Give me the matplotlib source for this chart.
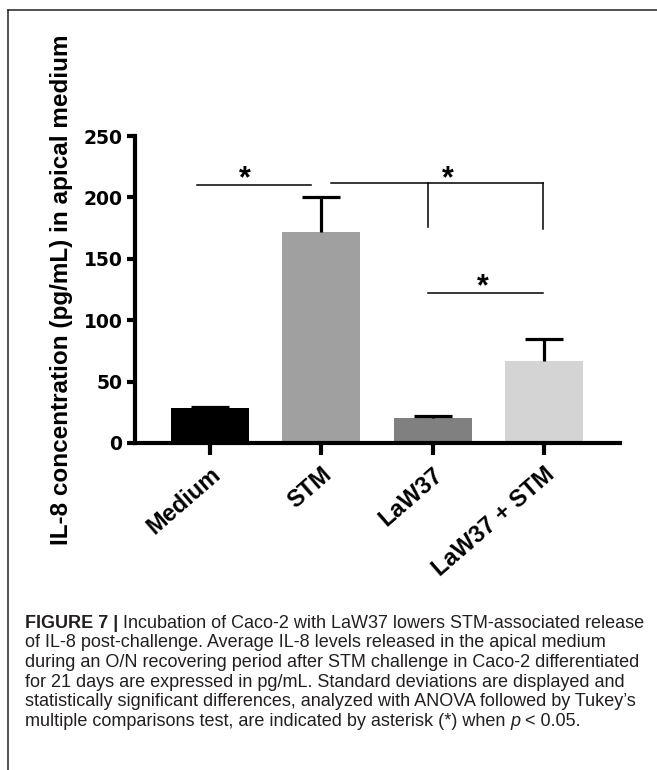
"""IL-8 release bar chart with significance brackets and figure caption."""

import matplotlib
matplotlib.use("Agg")
import matplotlib.pyplot as plt
from matplotlib.lines import Line2D
import numpy as np

# ---- Data ----
groups = ["Medium", "STM", "LaW37", "LaW37 + STM"]
il8_mean = [28.5, 172, 20.6, 67]
il8_sd = [1.0, 28, 1.0, 18]
bar_colors = ["#000000", "#a0a0a0", "#808080", "#d4d4d4"]

# significance brackets: (x_left, x_right, y) in data units, star (x, y)
sig_lines = [(-0.12, 0.91, 210), (1.09, 2.99, 211.5), (1.96, 2.99, 122.4)]
sig_drops = [(1.96, 211.5, 176), (2.99, 211.5, 174)]
sig_stars = [(0.31, 215), (2.14, 215), (2.45, 127)]

yticks = [0, 50, 100, 150, 200, 250]

caption_lines = [
    [("FIGURE 7 | ", "bold", "normal"),
     ("Incubation of Caco-2 with LaW37 lowers STM-associated release", "normal", "normal")],
    [("of IL-8 post-challenge. Average IL-8 levels released in the apical medium", "normal", "normal")],
    [("during an O/N recovering period after STM challenge in Caco-2 differentiated", "normal", "normal")],
    [("for 21 days are expressed in pg/mL. Standard deviations are displayed and", "normal", "normal")],
    [("statistically significant differences, analyzed with ANOVA followed by Tukey\u2019s", "normal", "normal")],
    [("multiple comparisons test, are indicated by asterisk (*) when ", "normal", "normal"),
     ("p", "normal", "italic"),
     (" < 0.05.", "normal", "normal")],
]

W, H = 657, 770
fig = plt.figure(figsize=(W / 100, H / 100), dpi=100)
fig.patch.set_facecolor("white")

# axes placed in pixel terms
ax = fig.add_axes([135 / W, (H - 443) / H, (620 - 135) / W, 307 / H])
x = np.arange(len(groups))
ax.bar(x, il8_mean, width=0.7, color=bar_colors, zorder=2)
# upper-only error bars: stem + cap
tops = np.array(il8_mean) + np.array(il8_sd)
ax.vlines(x, il8_mean, tops, color="black", lw=2.3, zorder=3)
ax.plot(x, tops, linestyle="none", marker="_", markersize=28,
        markeredgewidth=2.3, color="black", zorder=3)

ax.set_xlim(-0.674, 3.684)
ax.set_ylim(0, 250)
ax.set_yticks(yticks)
ax.set_yticklabels([str(t) for t in yticks], fontsize=13.5, fontweight="bold",
                   family="DejaVu Sans")
ax.set_xticks(x)
ax.set_xticklabels(groups, rotation=41, ha="right", rotation_mode="anchor",
                   fontsize=17, fontweight="bold", family="Liberation Sans")

for side in ("top", "right"):
    ax.spines[side].set_visible(False)
for side in ("left", "bottom"):
    ax.spines[side].set_linewidth(3)
ax.tick_params(axis="y", direction="out", length=6, width=3, pad=3)
ax.tick_params(axis="x", direction="out", length=8.5, width=3, pad=6)

# significance annotations
for x0, x1, y in sig_lines:
    ax.plot([x0, x1], [y, y], color="black", lw=1.1, clip_on=False)
for xx, y0, y1 in sig_drops:
    ax.plot([xx, xx], [y0, y1], color="black", lw=1.1, clip_on=False)
for sx, sy in sig_stars:
    ax.text(sx, sy, "*", ha="center", va="center", fontsize=22,
            family="Liberation Sans", fontweight="bold")

# y label
fig.text(62 / W, (H - 290) / H, "IL-8 concentration (pg/mL) in apical medium",
         rotation=90, ha="center", va="center", fontsize=17.5, fontweight="bold",
         family="Liberation Sans")

# frame: left and top border
fig.add_artist(Line2D([7.5 / W, 7.5 / W], [0, (H - 10) / H], color="#222222", lw=1.1))
fig.add_artist(Line2D([7.5 / W, 1], [(H - 10) / H, (H - 10) / H], color="#222222", lw=1.1))

# caption, drawn run by run
renderer = fig.canvas.get_renderer()
for i, runs in enumerate(caption_lines):
    y_px = 623 + 19.7 * i
    x_px = 25
    for txt, weight, style in runs:
        t = fig.text(x_px / W, (H - y_px) / H, txt, ha="left", va="center",
                     fontsize=13, fontweight=weight, fontstyle=style,
                     family="Liberation Sans", color="#231f20")
        bb = t.get_window_extent(renderer)
        x_px += bb.width

fig.savefig("out.png", dpi=100, facecolor=fig.get_facecolor())
plt.close(fig)
